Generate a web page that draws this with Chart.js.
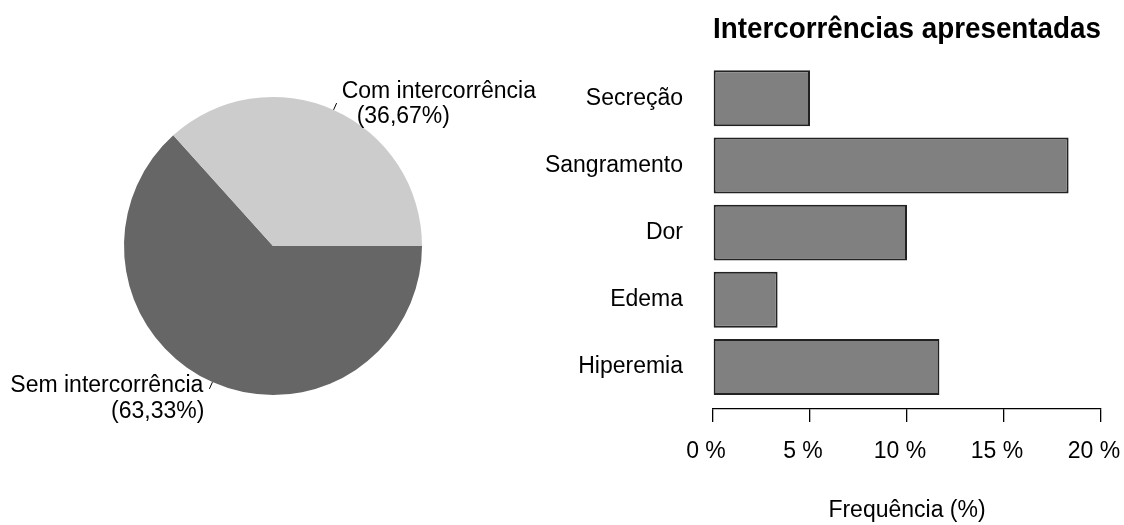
<!DOCTYPE html>
<html><head><meta charset="utf-8">
<script src="https://cdn.jsdelivr.net/npm/chart.js@4.4.1/dist/chart.umd.min.js"></script>
<style>
html,body{margin:0;padding:0;background:#fff;overflow:hidden;width:1124px;height:525px;}
#pie{position:absolute;left:0;top:0;}
#bar{position:absolute;left:520px;top:0;}
</style></head><body>
<canvas id="pie" width="546" height="492"></canvas>
<canvas id="bar" width="604" height="525"></canvas>
<script>
// ---- data ----
const pieLabels = ["Sem intercorrência", "Com intercorrência"];
const piePercents = [63.33, 36.67];
const pieColors = ["#666666", "#cccccc"];

const barCategories = ["Secreção", "Sangramento", "Dor", "Edema", "Hiperemia"];
const barValues = [5.00, 18.33, 10.00, 3.33, 11.67];
const xTickValues = [0, 5, 10, 15, 20];
const chartTitle = "Intercorrências apresentadas";
const xAxisTitle = "Frequência (%)";

// ---- styles / layout ----
Chart.defaults.font.family = '"Liberation Sans", Arial, sans-serif';
Chart.defaults.color = '#000';
const fmtPct = v => '(' + v.toFixed(2).replace('.', ',') + '%)';
// text placement offsets (px) relative to the 1.1r anchor, per slice: [line1 dx, line1 dy, line2 dx, line2 dy]
const labelOffsets = [[-3, -4, -2, 22], [2, 1.5, 17, 27]];

const pieLabelPlugin = {
  id: 'pieLabels',
  afterDatasetsDraw(chart) {
    const ctx = chart.ctx;
    const arcs = chart.getDatasetMeta(0).data;
    ctx.save();
    ctx.font = '23px "Liberation Sans", Arial, sans-serif';
    ctx.fillStyle = '#000';
    ctx.strokeStyle = '#000';
    ctx.lineWidth = 1;
    ctx.textBaseline = 'alphabetic';
    arcs.forEach((arc, i) => {
      const p = arc.getProps(['x', 'y', 'startAngle', 'endAngle', 'outerRadius'], true);
      const mid = (p.startAngle + p.endAngle) / 2;
      const c = Math.cos(mid), s = Math.sin(mid), r = p.outerRadius;
      ctx.beginPath();
      ctx.moveTo(p.x + c * r, p.y + s * r);
      ctx.lineTo(p.x + c * r * 1.05, p.y + s * r * 1.05);
      ctx.stroke();
      const ax = p.x + c * r * 1.1, ay = p.y + s * r * 1.1;
      ctx.textAlign = c >= 0 ? 'left' : 'right';
      const o = labelOffsets[i];
      ctx.fillText(pieLabels[i], ax + o[0], ay + o[1]);
      ctx.fillText(fmtPct(piePercents[i]), ax + o[2], ay + o[3]);
    });
    ctx.restore();
  }
};

new Chart(document.getElementById('pie'), {
  type: 'pie',
  data: { labels: pieLabels, datasets: [{ data: piePercents, backgroundColor: pieColors, borderWidth: 0 }] },
  options: {
    responsive: false, animation: false, rotation: 90,
    layout: { padding: { left: 124, right: 124, top: 97, bottom: 97 } },
    plugins: { legend: { display: false }, tooltip: { enabled: false } }
  },
  plugins: [pieLabelPlugin]
});

const n = barCategories.length;
const barPos = barCategories.map((_, i) => 0.7 + (n - 1 - i) * 1.2);

new Chart(document.getElementById('bar'), {
  type: 'bar',
  data: {
    datasets: [{
      data: barCategories.map((c, i) => ({ x: barValues[i], y: barPos[i] })),
      backgroundColor: '#808080', borderColor: '#222222', borderWidth: 2, borderSkipped: false,
      categoryPercentage: 1, barPercentage: 1 / 1.2
    }]
  },
  options: {
    indexAxis: 'y', responsive: false, animation: false,
    layout: { padding: { left: 0, right: 23, top: 0, bottom: 0 } },
    plugins: {
      legend: { display: false }, tooltip: { enabled: false },
      title: { display: true, text: chartTitle, fullSize: false, color: '#000',
               font: { size: 29, weight: 'bold' }, padding: { top: 12.5, bottom: 0 } }
    },
    scales: {
      x: {
        type: 'linear', min: 0, max: 20, position: 'bottom',
        afterBuildTicks: s => { s.ticks = xTickValues.map(v => ({ value: v })); },
        ticks: { callback: v => v + ' %', font: { size: 23 }, color: '#000', padding: 16, labelOffset: -7, maxRotation: 0, autoSkip: false },
        grid: { drawOnChartArea: false, drawTicks: true, tickLength: 13, color: '#000', lineWidth: 1.3 },
        border: { display: true, color: '#000', width: 1.3 },
        title: { display: true, text: xAxisTitle, font: { size: 23 }, color: '#000', padding: { top: 0, bottom: 1 } },
        afterFit: s => { s.height = 116; s.paddingLeft = 0; s.paddingRight = 0; }
      },
      y: {
        type: 'linear', min: -0.05, max: 6.41, offset: false,
        afterBuildTicks: s => { s.ticks = barPos.slice().sort((a, b) => a - b).map(v => ({ value: v })); },
        ticks: {
          callback: v => { const k = barPos.findIndex(p => Math.abs(p - v) < 1e-6); return k >= 0 ? barCategories[k] : ''; },
          padding: 30, font: { size: 23 }, color: '#000', autoSkip: false
        },
        grid: { display: false, drawTicks: false, offset: false },
        border: { display: false },
        afterFit: s => { s.width = 193; }
      }
    }
  }
});
</script>
</body></html>
